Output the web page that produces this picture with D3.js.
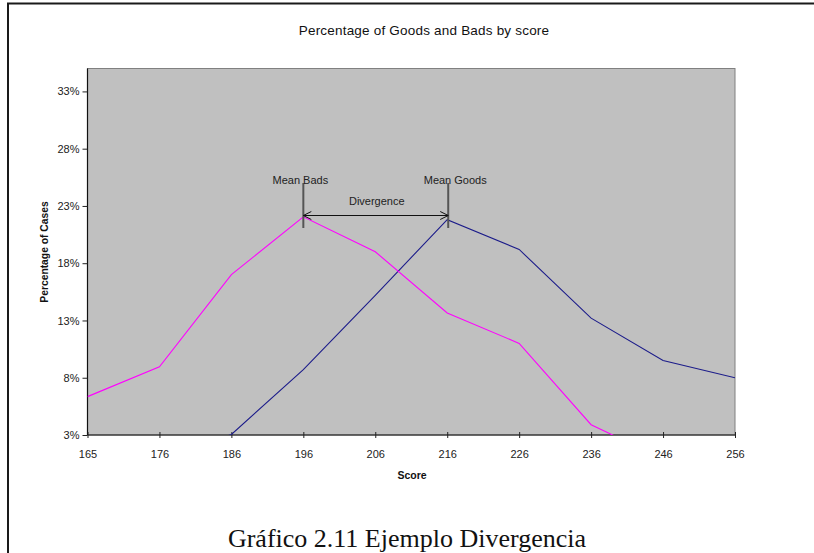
<!DOCTYPE html>
<html>
<head>
<meta charset="utf-8">
<script src="https://cdn.jsdelivr.net/npm/d3@7"></script>
<style>
  html, body { margin: 0; padding: 0; background: #fff; }
  svg { display: block; }
</style>
</head>
<body>
<svg id="chart" width="814" height="553"></svg>
<script>
// Score bands on the x axis
const scores = ["165", "176", "186", "196", "206", "216", "226", "236", "246", "256"];
// Percentage of cases per score band (values under 3% fall below the axis floor)
const goods = [0.2, 0.6, 3.05, 8.7, 15.2, 21.8, 19.2, 13.2, 9.5, 8.0];
const bads  = [6.35, 8.95, 17.0, 22.05, 19.0, 13.65, 11.0, 3.9, 0.9, 0.3];
// Y axis ticks
const yTicks = [3, 8, 13, 18, 23, 28, 33];
// Category positions of the two means
const meanBadsScore = "196";
const meanGoodsScore = "216";

const svg = d3.select("#chart");
const plot = { left: 87.5, right: 735, top: 68.5, bottom: 435 };

const x = d3.scalePoint().domain(scores).range([plot.left, plot.right]).padding(0);
const y = d3.scaleLinear().domain([3, 35]).range([plot.bottom, plot.top]);

// Outer frame
svg.append("path")
  .attr("d", `M8,553 V3.5 H814`)
  .attr("fill", "none").attr("stroke", "#1a1a1a").attr("stroke-width", 2);

// Title
svg.append("text")
  .attr("x", 424).attr("y", 35)
  .attr("text-anchor", "middle")
  .style("font-family", "Arial, 'Liberation Sans', sans-serif")
  .style("font-size", "13.5px")
  .style("letter-spacing", "0.2px")
  .attr("fill", "#111")
  .text("Percentage of Goods and Bads by score");

// Plot background
svg.append("rect")
  .attr("x", plot.left).attr("y", plot.top)
  .attr("width", plot.right - plot.left).attr("height", plot.bottom - plot.top)
  .attr("fill", "#c0c0c0").attr("stroke", "#808080").attr("stroke-width", 1);

svg.append("clipPath").attr("id", "plotclip")
  .append("rect")
  .attr("x", plot.left).attr("y", plot.top)
  .attr("width", plot.right - plot.left).attr("height", plot.bottom - plot.top);

// Axes
const yAxis = d3.axisLeft(y).tickValues(yTicks).tickSize(5).tickPadding(3)
  .tickFormat(d => d + "%");
const gy = svg.append("g").attr("transform", `translate(${plot.left},0)`).call(yAxis);

const xAxis = d3.axisBottom(x).tickSize(3).tickPadding(12);
const gx = svg.append("g").attr("transform", `translate(0,${plot.bottom})`).call(xAxis);
gx.selectAll(".tick line").attr("y1", -3).attr("y2", 3);

[gx, gy].forEach(g => {
  g.select(".domain").attr("stroke", "#111").attr("stroke-width", 1.2);
  g.selectAll(".tick line").attr("stroke", "#222");
  g.selectAll(".tick text")
    .style("font-family", "Arial, 'Liberation Sans', sans-serif")
    .style("font-size", "11px")
    .attr("fill", "#222");
});
gy.select(".domain").attr("d", `M0,${plot.bottom}V${plot.top}`);
gx.select(".domain").attr("d", `M${plot.left},0H${plot.right}`);

// Axis titles
svg.append("text")
  .attr("x", 412).attr("y", 479)
  .attr("text-anchor", "middle")
  .style("font-family", "Arial, 'Liberation Sans', sans-serif")
  .style("font-size", "10.5px").style("font-weight", "bold")
  .attr("fill", "#111")
  .text("Score");

svg.append("text")
  .attr("transform", "translate(48,252) rotate(-90)")
  .attr("text-anchor", "middle")
  .style("font-family", "Arial, 'Liberation Sans', sans-serif")
  .style("font-size", "10.3px").style("font-weight", "bold")
  .attr("fill", "#111")
  .text("Percentage of Cases");

// Series lines
const line = d3.line().x((d, i) => x(scores[i])).y(d => y(d));
const lines = svg.append("g").attr("clip-path", "url(#plotclip)");
lines.append("path").datum(goods)
  .attr("d", line).attr("fill", "none")
  .attr("stroke", "#1c1c8a").attr("stroke-width", 1.1);
lines.append("path").datum(bads)
  .attr("d", line).attr("fill", "none")
  .attr("stroke", "#ff00ff").attr("stroke-width", 1.1);

// Mean markers and divergence arrow
const xb = x(meanBadsScore), xg = x(meanGoodsScore) + 1;
const ann = svg.append("g");
[xb, xg].forEach(px => {
  ann.append("line")
    .attr("x1", px).attr("x2", px).attr("y1", 183).attr("y2", 228)
    .attr("stroke", "#555").attr("stroke-width", 2);
});
const ay = 215.5;
ann.append("line").attr("x1", xb).attr("x2", xg).attr("y1", ay).attr("y2", ay)
  .attr("stroke", "#111").attr("stroke-width", 1);
ann.append("path")
  .attr("d", `M${xb + 8},${ay - 4} L${xb},${ay} L${xb + 8},${ay + 4}`)
  .attr("fill", "none").attr("stroke", "#111").attr("stroke-width", 1);
ann.append("path")
  .attr("d", `M${xg - 8},${ay - 4} L${xg},${ay} L${xg - 8},${ay + 4}`)
  .attr("fill", "none").attr("stroke", "#111").attr("stroke-width", 1);

const annText = (tx, ty, s) => ann.append("text")
  .attr("x", tx).attr("y", ty).attr("text-anchor", "middle")
  .style("font-family", "Arial, 'Liberation Sans', sans-serif")
  .style("font-size", "11px").attr("fill", "#222").text(s);
annText(xb - 3, 184, "Mean Bads");
annText(xg + 7, 184, "Mean Goods");
annText((xb + xg) / 2 + 1, 205, "Divergence");

// Caption
svg.append("text")
  .attr("x", 407).attr("y", 547)
  .attr("text-anchor", "middle")
  .style("font-family", "'Times New Roman', 'Liberation Serif', serif")
  .style("font-size", "26px")
  .attr("fill", "#111")
  .text("Gráfico 2.11 Ejemplo Divergencia");
</script>
</body>
</html>
